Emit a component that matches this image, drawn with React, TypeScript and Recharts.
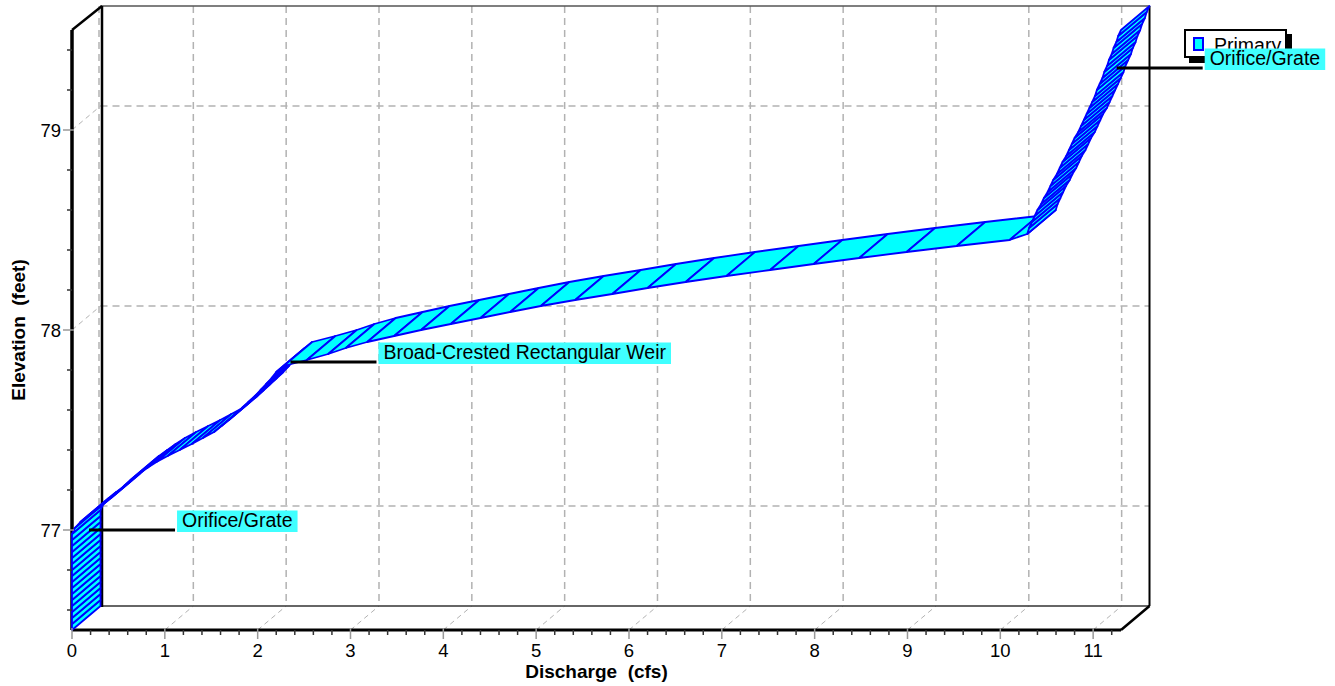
import { LineChart, Line, XAxis, YAxis, ReferenceLine, ReferenceDot, Legend } from 'recharts'

// stage–discharge curve (front edge of the ribbon)
const elevation = [
  76.5, 76.53, 76.56, 76.59, 76.62, 76.65, 76.68, 76.71, 76.74, 76.77, 76.8, 76.83, 76.86, 76.89, 76.92, 76.95, 76.98,
  77.01, 77.04, 77.07, 77.1, 77.13, 77.16, 77.19, 77.22, 77.25, 77.28, 77.31, 77.34, 77.37, 77.4,
  77.43, 77.46, 77.49, 77.52, 77.55, 77.58, 77.61, 77.64, 77.67, 77.7, 77.73, 77.76, 77.79, 77.82,
  77.85, 77.88, 77.91, 77.94, 77.97, 78.0, 78.03, 78.06, 78.09, 78.12, 78.15, 78.18, 78.21, 78.24,
  78.27, 78.3, 78.33, 78.36, 78.39, 78.42, 78.45, 78.48,
  78.51, 78.54, 78.57, 78.6, 78.63, 78.66, 78.69, 78.72, 78.75, 78.78, 78.81, 78.84, 78.87, 78.9,
  78.93, 78.96, 78.99, 79.02, 79.05, 79.08, 79.11, 79.14, 79.17, 79.2, 79.23, 79.26, 79.29, 79.32,
  79.35, 79.38, 79.41, 79.44, 79.47, 79.5,
]
const discharge = [
  0, 0, 0, 0, 0, 0, 0, 0, 0, 0, 0, 0, 0, 0, 0, 0, 0,
  0.03, 0.09, 0.17, 0.26, 0.34, 0.42, 0.49, 0.56, 0.63, 0.72, 0.81, 0.91, 1.03, 1.16,
  1.29, 1.41, 1.53, 1.61, 1.69, 1.76, 1.83, 1.9, 1.97, 2.03, 2.09, 2.15, 2.2, 2.28,
  2.53, 2.76, 2.95, 3.18, 3.47, 3.76, 4.08, 4.4, 4.72, 5.05, 5.42, 5.82, 6.2, 6.61,
  7.05, 7.52, 7.99, 8.48, 8.99, 9.53, 10.1, 10.29,
  10.31, 10.34, 10.37, 10.4, 10.44, 10.47, 10.51, 10.54, 10.57, 10.61, 10.64, 10.67, 10.71, 10.74,
  10.77, 10.8, 10.84, 10.87, 10.9, 10.93, 10.96, 10.99, 11.02, 11.04, 11.07, 11.1, 11.12, 11.15,
  11.17, 11.2, 11.22, 11.25, 11.27, 11.3,
]

const xMajor = [1, 2, 3, 4, 5, 6, 7, 8, 9, 10, 11]
const yMajor = [77, 78, 79]
const xTicks = Array.from({ length: 57 }, (_, i) => Math.round(i * 2) / 10)
const yTicks = Array.from({ length: 15 }, (_, i) => Math.round(7660 + i * 20) / 100)

const annoText = ['Orifice/Grate', 'Broad-Crested Rectangular Weir', 'Orifice/Grate']
const annoQ = [0.03, 2.2, 11.1]
const annoE = [76.94, 77.78, 79.25]

const X_MAX = 11.3
const Y_MIN = 76.5
const Y_MAX = 79.5

// depth of the 3D box, in pixels
const DX = 28.5
const DY = -24
const FONT = '"Liberation Sans", Arial, Helvetica, sans-serif'
const GRID = '#b2b2b2'

const data = elevation.map((e, i) => ({ q: discharge[i], e }))

let measureCtx: CanvasRenderingContext2D | null = null
function textWidth(t: string, font: string) {
  if (!measureCtx && typeof document !== 'undefined') measureCtx = document.createElement('canvas').getContext('2d')
  if (!measureCtx) return t.length * 9.5
  measureCtx.font = font
  return measureCtx.measureText(t).width
}

function Ribbon(props: any) {
  const { index, points, cx, cy } = props
  if (!points) {
    return <line key={`d-${index}`} x1={cx} y1={cy} x2={cx + DX} y2={cy + DY} stroke="#0000ff" strokeWidth={1.5} />
  }
  if (index !== 0) return <g key={`r-${index}`} />
  const quads = []
  for (let i = 0; i < points.length - 1; i++) {
    const a = points[i]
    const b = points[i + 1]
    const d = `M${a.x},${a.y}L${b.x},${b.y}L${b.x + DX},${b.y + DY}L${a.x + DX},${a.y + DY}Z`
    quads.push(<path key={i} d={d} fill="#00ffff" stroke="#0000ff" strokeWidth={1.8} strokeLinejoin="round" />)
  }
  return <g key="ribbon">{quads}</g>
}

function XTick(props: any) {
  const { x, y, payload } = props
  const v = payload.value
  const major = Math.abs(v - Math.round(v)) < 1e-6
  return (
    <g>
      {major
        ? <line x1={x} y1={y - 2} x2={x} y2={y + 9} stroke="#999" strokeWidth={1.5} />
        : <line x1={x} y1={y} x2={x} y2={y + 5} stroke="#333" strokeWidth={1.5} />}
      {major && (
        <text x={x} y={y + 27} textAnchor="middle" fontSize={18.5} fontFamily={FONT} fill="#000">{Math.round(v)}</text>
      )}
    </g>
  )
}

function YTick(props: any) {
  const { x, y, payload } = props
  const v = payload.value
  const major = Math.abs(v - Math.round(v)) < 1e-6
  return (
    <g>
      {major
        ? <line x1={x + 2} y1={y} x2={x - 9} y2={y} stroke="#999" strokeWidth={1.5} />
        : <line x1={x} y1={y} x2={x - 5} y2={y} stroke="#333" strokeWidth={1.5} />}
      {major && (
        <text x={x - 11} y={y + 7} textAnchor="end" fontSize={18.5} fontFamily={FONT} fill="#000">{Math.round(v)}</text>
      )}
    </g>
  )
}

const vSpan = (p: any) => [Math.min(p.y1, p.y2), Math.max(p.y1, p.y2)]
const hSpan = (p: any) => [Math.min(p.x1, p.x2), Math.max(p.x1, p.x2)]

// back wall vertical grid + floor diagonal
const BackVertical = (p: any) => {
  const [top, bot] = vSpan(p)
  return (
    <g>
      <line x1={p.x1 + DX} y1={top + DY} x2={p.x1 + DX} y2={bot + DY} stroke={GRID} strokeWidth={1.5} strokeDasharray="7 5" />
      <line x1={p.x1} y1={bot} x2={p.x1 + DX} y2={bot + DY} stroke={GRID} strokeWidth={1} strokeDasharray="5 4" />
    </g>
  )
}

// back wall horizontal grid + left wall diagonal
const BackHorizontal = (p: any) => {
  const [l, r] = hSpan(p)
  return (
    <g>
      <line x1={l + DX} y1={p.y1 + DY} x2={r + DX} y2={p.y1 + DY} stroke={GRID} strokeWidth={1.5} strokeDasharray="7 5" />
      <line x1={l} y1={p.y1} x2={l + DX} y2={p.y1 + DY} stroke={GRID} strokeWidth={1} strokeDasharray="5 4" />
    </g>
  )
}

const FrameLeft = (p: any) => {
  const [top, bot] = vSpan(p)
  return (
    <g>
      <line x1={p.x1 + DX - 1.5} y1={top + DY} x2={p.x1 + DX - 1.5} y2={bot + DY} stroke={GRID} strokeWidth={1.5} strokeDasharray="7 5" />
      <line x1={p.x1 + DX + 1.5} y1={top + DY} x2={p.x1 + DX + 1.5} y2={bot + DY + 1} stroke="#000" strokeWidth={2.5} />
      <line x1={p.x1} y1={top} x2={p.x1 + DX + 1.5} y2={top + DY} stroke="#000" strokeWidth={2.5} />
    </g>
  )
}

const FrameRight = (p: any) => {
  const [top, bot] = vSpan(p)
  return (
    <g>
      <line x1={p.x1 + DX} y1={top + DY} x2={p.x1 + DX} y2={bot + DY} stroke="#000" strokeWidth={2} />
      <line x1={p.x1} y1={bot} x2={p.x1 + DX} y2={bot + DY} stroke="#000" strokeWidth={2.5} />
    </g>
  )
}

const FrameTop = (p: any) => {
  const [l, r] = hSpan(p)
  return <line x1={l + DX} y1={p.y1 + DY} x2={r + DX} y2={p.y1 + DY} stroke="#555" strokeWidth={1.5} />
}

const FrameBottom = (p: any) => {
  const [l, r] = hSpan(p)
  return <line x1={l + DX} y1={p.y1 + DY} x2={r + DX} y2={p.y1 + DY} stroke="#333" strokeWidth={1.5} />
}

const makeAnnotation = (text: string) => (p: any) => {
  const x0 = p.cx + DX / 2
  const y0 = p.cy + DY / 2
  const x1 = x0 + 86
  const w = textWidth(text, `19.5px ${FONT}`) + 10
  return (
    <g>
      <line x1={x0} y1={y0} x2={x1} y2={y0} stroke="#000" strokeWidth={3} />
      <rect x={x1 + 2} y={y0 - 19.5} width={w} height={21.5} fill="#40ffff" />
      <text x={x1 + 7} y={y0 - 3} fontSize={19.5} fontFamily={FONT} fill="#000">{text}</text>
    </g>
  )
}

const YTitle = (p: any) => {
  const vb = p.viewBox || { x: 0, y: 30, width: 72, height: 600 }
  const cx = vb.x + 25
  const cy = vb.y + vb.height / 2
  return (
    <text x={cx} y={cy} transform={`rotate(-90 ${cx} ${cy})`} textAnchor="middle" fontSize={19} fontWeight="bold"
      fontFamily={FONT} fill="#000" style={{ whiteSpace: 'pre' }}>Elevation  (feet)</text>
  )
}

const XTitle = (p: any) => {
  const vb = p.viewBox || { x: 72, y: 630, width: 1049, height: 56 }
  return (
    <text x={vb.x + vb.width / 2} y={vb.y + 48} textAnchor="middle" fontSize={19} fontWeight="bold"
      fontFamily={FONT} fill="#000" style={{ whiteSpace: 'pre' }}>Discharge  (cfs)</text>
  )
}

const renderLegend = (props: any) => {
  const name = props.payload?.[0]?.value ?? 'Primary'
  return (
    <div style={{
      position: 'relative', width: 103, height: 29, border: '2px solid #000', boxSizing: 'border-box',
      background: '#fff', boxShadow: '5px 5px 0 #000', fontFamily: FONT,
    }}>
      <span style={{
        position: 'absolute', left: 7, top: 6, width: 11, height: 14, background: '#00ffff',
        border: '2px solid #0000ff', boxSizing: 'border-box',
      }} />
      <span style={{ position: 'absolute', left: 28, top: 3, fontSize: 19.5, lineHeight: '22px', color: '#000' }}>{name}</span>
    </div>
  )
}

export default function App() {
  return (
    <div style={{ position: 'absolute', left: 0, top: 0 }}>
      <LineChart width={1335} height={686} data={data} margin={{ top: 30, right: 214, bottom: 0, left: 0 }}
        style={{ fontFamily: FONT }}>
        {xMajor.map(q => (
          <ReferenceLine key={`gx${q}`} x={q} shape={BackVertical} zIndex={-50} />
        ))}
        {yMajor.map(e => (
          <ReferenceLine key={`gy${e}`} y={e} shape={BackHorizontal} zIndex={-50} />
        ))}
        <ReferenceLine y={Y_MAX} shape={FrameTop} zIndex={-50} />
        <ReferenceLine y={Y_MIN} shape={FrameBottom} zIndex={-50} />
        <ReferenceLine x={0} shape={FrameLeft} zIndex={-50} />
        <ReferenceLine x={X_MAX} shape={FrameRight} zIndex={-50} />

        <Line dataKey="e" name="Primary" stroke="none" dot={Ribbon} activeDot={false}
          isAnimationActive={false} legendType="rect" />

        <XAxis dataKey="q" type="number" domain={[0, X_MAX]} ticks={xTicks} interval={0} height={56}
          tickSize={0} tickMargin={0} tick={<XTick />} tickLine={false}
          axisLine={{ stroke: '#000', strokeWidth: 3 }} label={{ content: XTitle }} />
        <YAxis dataKey="e" type="number" domain={[Y_MIN, Y_MAX]} ticks={yTicks} interval={0} width={72}
          tickSize={0} tickMargin={0} tick={<YTick />} tickLine={false}
          axisLine={{ stroke: '#000', strokeWidth: 3.5 }} label={{ content: YTitle }} />

        {annoText.map((t, i) => (
          <ReferenceDot key={`a${i}`} x={annoQ[i]} y={annoE[i]} shape={makeAnnotation(t)} zIndex={1500} />
        ))}

        <Legend content={renderLegend} layout="horizontal" verticalAlign="middle" align="center"
          wrapperStyle={{ left: 1184, top: 29, right: 'auto', width: 112, height: 36, zIndex: -1 }} />
      </LineChart>
    </div>
  )
}
